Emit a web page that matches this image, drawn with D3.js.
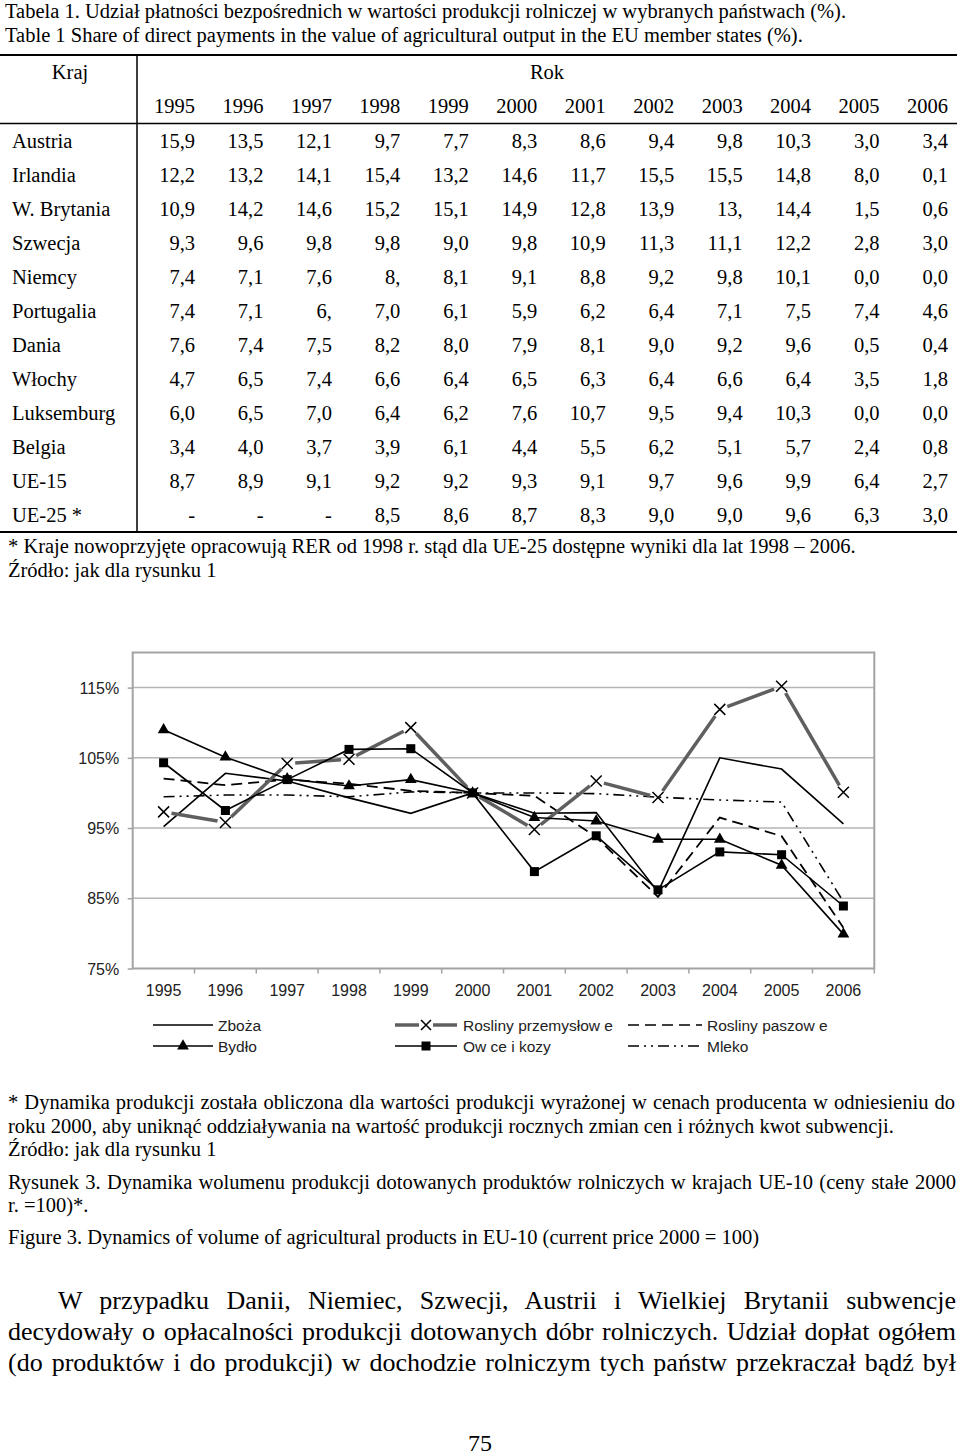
<!DOCTYPE html>
<html><head><meta charset="utf-8">
<script src="https://cdn.jsdelivr.net/npm/d3@7"></script>
<style>body{margin:0;background:#fff}</style>
</head><body><svg id="c" width="960" height="1455"></svg>
<script>
// ---------- Table data ----------
const tableYears = ["1995","1996","1997","1998","1999","2000","2001","2002","2003","2004","2005","2006"];
const countries = ["Austria","Irlandia","W. Brytania","Szwecja","Niemcy","Portugalia","Dania","Włochy","Luksemburg","Belgia","UE-15","UE-25 *"];
const rowAustria    = ["15,9","13,5","12,1","9,7","7,7","8,3","8,6","9,4","9,8","10,3","3,0","3,4"];
const rowIrlandia   = ["12,2","13,2","14,1","15,4","13,2","14,6","11,7","15,5","15,5","14,8","8,0","0,1"];
const rowWBrytania  = ["10,9","14,2","14,6","15,2","15,1","14,9","12,8","13,9","13,","14,4","1,5","0,6"];
const rowSzwecja    = ["9,3","9,6","9,8","9,8","9,0","9,8","10,9","11,3","11,1","12,2","2,8","3,0"];
const rowNiemcy     = ["7,4","7,1","7,6","8,","8,1","9,1","8,8","9,2","9,8","10,1","0,0","0,0"];
const rowPortugalia = ["7,4","7,1","6,","7,0","6,1","5,9","6,2","6,4","7,1","7,5","7,4","4,6"];
const rowDania      = ["7,6","7,4","7,5","8,2","8,0","7,9","8,1","9,0","9,2","9,6","0,5","0,4"];
const rowWlochy     = ["4,7","6,5","7,4","6,6","6,4","6,5","6,3","6,4","6,6","6,4","3,5","1,8"];
const rowLuksemburg = ["6,0","6,5","7,0","6,4","6,2","7,6","10,7","9,5","9,4","10,3","0,0","0,0"];
const rowBelgia     = ["3,4","4,0","3,7","3,9","6,1","4,4","5,5","6,2","5,1","5,7","2,4","0,8"];
const rowUE15       = ["8,7","8,9","9,1","9,2","9,2","9,3","9,1","9,7","9,6","9,9","6,4","2,7"];
const rowUE25       = ["-","-","-","8,5","8,6","8,7","8,3","9,0","9,0","9,6","6,3","3,0"];
const tableRows = [rowAustria,rowIrlandia,rowWBrytania,rowSzwecja,rowNiemcy,rowPortugalia,rowDania,rowWlochy,rowLuksemburg,rowBelgia,rowUE15,rowUE25];

// ---------- Chart data (% of 2000) ----------
const chartYears = ["1995","1996","1997","1998","1999","2000","2001","2002","2003","2004","2005","2006"];
const yTicks = [75, 85, 95, 105, 115];
const zboza       = [95.2, 102.8, 101.7, 99.3, 97.1, 100, 97.1, 97.2, 85.9, 105.0, 103.4, 95.6];
const bydlo       = [109.0, 105.1, 102.0, 101.0, 101.9, 100, 96.5, 96.0, 93.4, 93.4, 89.7, 79.9];
const przemyslowe = [97.3, 95.8, 104.2, 104.8, 109.3, 100, 94.8, 101.7, 99.35, 111.9, 115.2, 100.1];
const paszowe     = [102.05, 101.1, 101.9, 101.3, 100.3, 100, 99.6, 93.7, 85.2, 96.5, 93.85, 80.8];
const owce        = [104.3, 97.5, 101.9, 106.2, 106.3, 100, 88.8, 93.9, 86.2, 91.6, 91.2, 83.9];
const mleko       = [99.45, 99.7, 99.7, 99.45, 100.15, 100, 100.0, 99.9, 99.4, 99.0, 98.7, 84.5];
const seriesNames = ["Zboża","Bydło","Rosliny przemysłow e","Ow ce i kozy","Rosliny paszow e","Mleko"];

const svg = d3.select("#c");
svg.append("rect").attr("width",960).attr("height",1455).attr("fill","#fff");
const SERIF = "'Liberation Serif','Times New Roman',serif";
const SANS = "'Liberation Sans',Arial,sans-serif";
const FS = 20.5;

function txt(x, y, s, size, opts={}) {
  const t = svg.append("text").attr("x",x).attr("y",y).text(s)
    .attr("font-family", opts.family || SERIF).attr("font-size", size)
    .attr("fill", opts.fill || "#000").attr("text-anchor", opts.anchor || "start");
  if (opts.justifyTo) {
    const w = t.node().getComputedTextLength();
    const n = (s.match(/ /g) || []).length;
    if (n) t.style("word-spacing", ((opts.justifyTo - x - w) / n) + "px");
  }
  return t;
}

// ---------- Titles ----------
txt(5, 18, "Tabela 1. Udział płatności bezpośrednich w wartości produkcji rolniczej w wybranych państwach (%).", FS);
txt(5, 42, "Table 1 Share of direct payments in the value of agricultural output in the EU member states (%).", FS);

// ---------- Table ----------
const colX = d3.scalePoint().domain(tableYears).range([195, 948]);
const rowY = d3.scaleBand().domain(countries).range([124.7, 532.7]);
const tl = svg.append("g").attr("stroke","#000");
tl.append("line").attr("x1",0).attr("x2",957).attr("y1",55).attr("y2",55).attr("stroke-width",2);
tl.append("line").attr("x1",0).attr("x2",957).attr("y1",123.5).attr("y2",123.5).attr("stroke-width",1.5);
tl.append("line").attr("x1",0).attr("x2",957).attr("y1",532).attr("y2",532).attr("stroke-width",2);
tl.append("line").attr("x1",137).attr("x2",137).attr("y1",55).attr("y2",532).attr("stroke-width",1.5);
txt(70, 79, "Kraj", FS, {anchor:"middle"});
txt(547, 79, "Rok", FS, {anchor:"middle"});
tableYears.forEach(y => txt(colX(y), 113, y, FS, {anchor:"end"}));
countries.forEach((c, i) => {
  const by = rowY(c) + rowY.bandwidth()/2 + 6.5;
  txt(12, by, c, FS);
  tableRows[i].forEach((v, j) => txt(colX(tableYears[j]), by, v, FS, {anchor:"end"}));
});
txt(8, 553, "* Kraje nowoprzyjęte opracowują RER od 1998 r. stąd dla UE-25 dostępne wyniki dla lat 1998 – 2006.", FS);
txt(8, 577, "Źródło: jak dla rysunku 1", FS);

// ---------- Chart ----------
const L = 132.7, R = 874.3, T = 652.5, B = 968.5;
const x = d3.scaleBand().domain(chartYears).range([L, R]);
const y = d3.scaleLinear().domain([75, 120]).range([B, T]);
const cx = d => x(d) + x.bandwidth()/2;
const g = svg.append("g");

g.selectAll(".grid").data(yTicks.filter(v => v > 75)).enter().append("line")
  .attr("x1", L).attr("x2", R).attr("y1", d => y(d)).attr("y2", d => y(d))
  .attr("stroke", "#b5b5b5").attr("stroke-width", 1.5);
g.append("rect").attr("x", L).attr("y", T).attr("width", R-L).attr("height", B-T)
  .attr("fill","none").attr("stroke","#a3a3a3").attr("stroke-width",2);

const yAxis = g.append("g").attr("transform", `translate(${L},0)`)
  .call(d3.axisLeft(y).tickValues(yTicks).tickSize(5).tickFormat(d => d + "%"));
yAxis.select(".domain").remove();
yAxis.selectAll("line").attr("stroke","#a3a3a3").attr("stroke-width",1.5);
yAxis.selectAll("text").attr("font-family",SANS).attr("font-size",16).attr("fill","#222").attr("x",-13.5).attr("dy","0.35em");

const xAxis = g.append("g").attr("transform", `translate(0,${B})`)
  .call(d3.axisBottom(x).tickSize(0));
xAxis.select(".domain").remove();
xAxis.selectAll("text").attr("font-family",SANS).attr("font-size",16).attr("fill","#222").attr("y",16).attr("dy","0.71em");
g.selectAll(".xt").data(chartYears.slice(1).concat(["end"])).enter().append("line")
  .attr("x1", (d,i) => L + x.step()*(i+1)).attr("x2", (d,i) => L + x.step()*(i+1))
  .attr("y1", B).attr("y2", B+5).attr("stroke","#a3a3a3").attr("stroke-width",1.5);

const lineGen = d3.line().x((d,i) => cx(chartYears[i])).y(d => y(d));
function plainLine(data, dash, width) {
  g.append("path").datum(data).attr("d", lineGen).attr("fill","none")
    .attr("stroke","#000").attr("stroke-width", width || 1.6)
    .attr("stroke-dasharray", dash || null);
}
plainLine(mleko, "11,5,2,5,2,5", 1.6);
plainLine(paszowe, "11,6", 1.8);
plainLine(zboza, null, 1.6);

const pp = przemyslowe.map((v,i) => [cx(chartYears[i]), y(v)]);
const gap = 8;
for (let i = 0; i < pp.length-1; i++) {
  const [x0,y0] = pp[i], [x1,y1] = pp[i+1];
  const len = Math.hypot(x1-x0, y1-y0), ux = (x1-x0)/len, uy = (y1-y0)/len;
  g.append("line").attr("x1", x0+ux*gap).attr("y1", y0+uy*gap).attr("x2", x1-ux*gap).attr("y2", y1-uy*gap)
    .attr("stroke","#5f5f5f").attr("stroke-width",3.5);
}
g.selectAll(".xm").data(przemyslowe).enter().append("path")
  .attr("d", (d,i) => { const X = cx(chartYears[i]), Y = y(d), s = 5.5;
    return `M${X-s},${Y-s}L${X+s},${Y+s}M${X-s},${Y+s}L${X+s},${Y-s}`; })
  .attr("stroke","#000").attr("stroke-width",1.5).attr("fill","none");

plainLine(bydlo, null, 1.6);
plainLine(owce, null, 1.6);
const tri = d3.symbol().type(d3.symbolTriangle).size(60);
g.selectAll(".tm").data(bydlo).enter().append("path").attr("d", tri)
  .attr("transform", (d,i) => `translate(${cx(chartYears[i])},${y(d)})`).attr("fill","#000");
g.selectAll(".sm").data(owce).enter().append("rect")
  .attr("x", (d,i) => cx(chartYears[i]) - 4.5).attr("y", d => y(d) - 4.5)
  .attr("width", 9).attr("height", 9).attr("fill","#000");

// ---------- Legend ----------
const lg = svg.append("g");
const legendItems = [
  {name: seriesNames[0], x0:153, x1:213, tx:218, y:1025, kind:"plain"},
  {name: seriesNames[1], x0:153, x1:213, tx:218, y:1046, kind:"tri"},
  {name: seriesNames[2], x0:395, x1:457, tx:463, y:1025, kind:"x"},
  {name: seriesNames[3], x0:395, x1:457, tx:463, y:1046, kind:"sq"},
  {name: seriesNames[4], x0:628, x1:702, tx:707, y:1025, kind:"dash"},
  {name: seriesNames[5], x0:628, x1:702, tx:707, y:1046, kind:"dashdot"}
];
legendItems.forEach(it => {
  const mid = (it.x0 + it.x1)/2;
  if (it.kind === "x") {
    lg.append("line").attr("x1",it.x0).attr("x2",mid-7).attr("y1",it.y).attr("y2",it.y).attr("stroke","#5f5f5f").attr("stroke-width",3.5);
    lg.append("line").attr("x1",mid+7).attr("x2",it.x1).attr("y1",it.y).attr("y2",it.y).attr("stroke","#5f5f5f").attr("stroke-width",3.5);
    const s = 5;
    lg.append("path").attr("d",`M${mid-s},${it.y-s}L${mid+s},${it.y+s}M${mid-s},${it.y+s}L${mid+s},${it.y-s}`).attr("stroke","#000").attr("stroke-width",1.5);
  } else {
    lg.append("line").attr("x1",it.x0).attr("x2",it.x1).attr("y1",it.y).attr("y2",it.y).attr("stroke","#000")
      .attr("stroke-width", 1.6)
      .attr("stroke-dasharray", it.kind==="dash" ? "11,6" : it.kind==="dashdot" ? "11,5,2,5,2,5" : null);
    if (it.kind === "tri") lg.append("path").attr("d", tri).attr("transform",`translate(${mid},${it.y})`).attr("fill","#000");
    if (it.kind === "sq") lg.append("rect").attr("x",mid-4.5).attr("y",it.y-4.5).attr("width",9).attr("height",9).attr("fill","#000");
  }
  txt(it.tx, it.y + 5.5, it.name, 15.5, {family: SANS, fill:"#222"});
});

// ---------- Notes under chart ----------
txt(8, 1109, "* Dynamika produkcji została obliczona dla wartości produkcji wyrażonej w cenach producenta w odniesieniu do", FS, {justifyTo: 955});
txt(8, 1133, "roku 2000, aby uniknąć oddziaływania na wartość produkcji rocznych zmian cen i różnych kwot subwencji.", FS);
txt(8, 1156, "Źródło: jak dla rysunku 1", FS);
txt(8, 1189, "Rysunek 3. Dynamika wolumenu produkcji dotowanych produktów rolniczych w krajach UE-10 (ceny stałe 2000", FS, {justifyTo: 956});
txt(8, 1212, "r. =100)*.", FS);
txt(8, 1244, "Figure 3. Dynamics of volume of agricultural products in EU-10 (current price 2000 = 100)", FS);

// ---------- Paragraph ----------
txt(58, 1309, "W przypadku Danii, Niemiec, Szwecji, Austrii i Wielkiej Brytanii subwencje", 26, {justifyTo: 956});
txt(8, 1340, "decydowały o opłacalności produkcji dotowanych dóbr rolniczych. Udział dopłat ogółem", 26, {justifyTo: 956});
txt(8, 1371, "(do produktów i do produkcji) w dochodzie rolniczym tych państw przekraczał bądź był", 26, {justifyTo: 956});
txt(480, 1451, "75", 24, {anchor:"middle"});
</script></body></html>
